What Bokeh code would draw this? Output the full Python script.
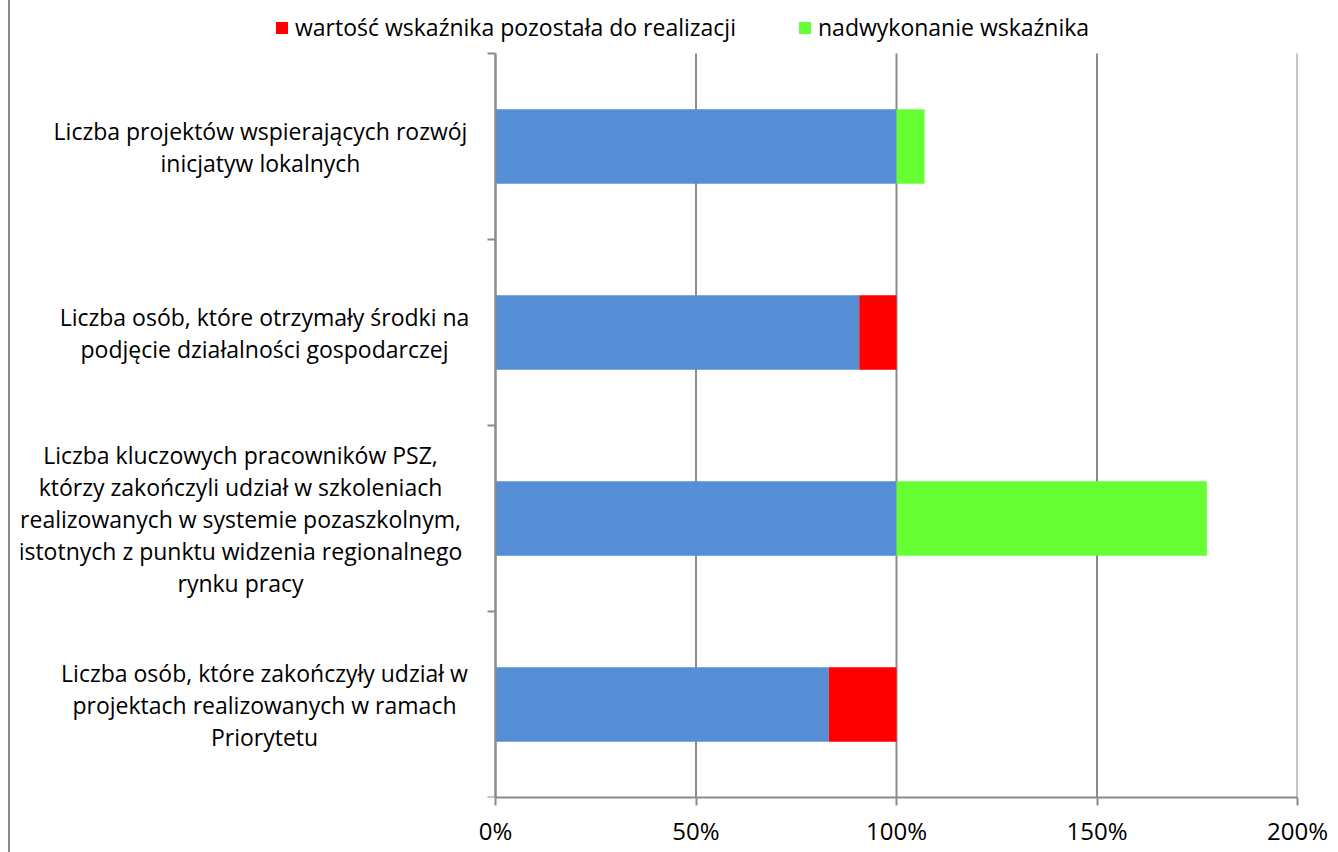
from bokeh.plotting import figure
from bokeh.models import (Range1d, FixedTicker, LabelSet, ColumnDataSource, Legend, LegendItem)
from bokeh.core.properties import value
from bokeh.embed import file_html
from bokeh.resources import INLINE

# ---- data (top to bottom) ----
categories = [
    "Liczba projektów wspierających rozwój\ninicjatyw lokalnych",
    "Liczba osób, które otrzymały środki na\npodjęcie działalności gospodarczej",
    "Liczba kluczowych pracowników PSZ,\nktórzy zakończyli udział w szkoleniach\nrealizowanych w systemie pozaszkolnym,\nistotnych z punktu widzenia regionalnego\nrynku pracy",
    "Liczba osób, które zakończyły udział w\nprojektach realizowanych w ramach\nPriorytetu",
]
realized = [100.0, 90.7, 100.0, 83.1]     # blue
remaining = [0.0, 9.3, 0.0, 16.9]         # red
overdone = [7.0, 0.0, 77.4, 0.0]          # green
legend_labels = ["wartość wskaźnika pozostała do realizacji", "nadwykonanie wskaźnika"]
x_ticks = [0, 50, 100, 150, 200]
x_tick_labels = ["0%", "50%", "100%", "150%", "200%"]

FONT = "Open Sans"
FS = "23px"
GRID = "#8c8c8c"

W, H = 1338, 852
LEFT, RIGHT, BOTTOM = 20, 41, 55     # canvas borders around the frame
X0_PX, X200_PX = 495, 1297            # where 0% and 200% fall
TOP_PX = 53                           # top of the value area
label_center_px = [260, 264, 240, 264]  # horizontal centre of each category label block

n = len(categories)
ypos = [n - i - 0.5 for i in range(n)]

kx = (X200_PX - X0_PX) / 200.0
x_start = -(X0_PX - LEFT) / kx
ky = (H - BOTTOM - TOP_PX) / n
y_end = n + TOP_PX / ky

p = figure(width=W, height=H, output_backend="svg", toolbar_location=None,
           x_range=Range1d(x_start, 200), y_range=Range1d(0, y_end),
           min_border_left=LEFT, min_border_right=RIGHT, min_border_top=0, min_border_bottom=BOTTOM)
p.outline_line_color = None
p.background_fill_color = "white"
p.border_fill_color = None
p.styles = {"background-color": "white",
            "box-shadow": "inset 8px 0 0 0 white, inset 10px 0 0 0 #8c8c8c"}
p.grid.visible = False

# vertical grid lines (only over the value area)
p.segment(x0=x_ticks, x1=x_ticks, y0=[0] * len(x_ticks), y1=[n] * len(x_ticks),
          line_color=GRID, line_width=2)

# bars
blue_right = realized
red_left = realized
red_right = [a + b for a, b in zip(realized, remaining)]
green_left = red_right
green_right = [a + b + c for a, b, c in zip(realized, remaining, overdone)]

p.hbar(y=ypos, left=[0] * n, right=blue_right, height=0.4, fill_color="#558ED5", line_color=None)
r_red = p.hbar(y=ypos, left=red_left, right=red_right, height=0.4, fill_color="#FF0000", line_color=None)
r_green = p.hbar(y=ypos, left=green_left, right=green_right, height=0.4, fill_color="#66FF33", line_color=None)

# x axis
xa = p.xaxis[0]
xa.ticker = FixedTicker(ticks=x_ticks)
xa.bounds = (0, 200)
xa.major_label_overrides = {t: l for t, l in zip(x_ticks, x_tick_labels)}
xa.major_label_text_font = FONT
xa.major_label_text_font_size = "24px"
xa.major_label_text_color = "black"
xa.major_label_standoff = 8
xa.axis_line_color = GRID
xa.axis_line_width = 2
xa.major_tick_line_color = GRID
xa.major_tick_line_width = 2
xa.major_tick_in = 0
xa.major_tick_out = 8
xa.minor_tick_line_color = None

# y axis at 0 % (ticks at category boundaries, no labels)
ya = p.yaxis[0]
ya.fixed_location = 0
ya.bounds = (0, n)
ya.ticker = FixedTicker(ticks=list(range(n + 1)))
ya.major_label_overrides = {i: "" for i in range(n + 1)}
ya.axis_line_color = GRID
ya.axis_line_width = 2
ya.major_tick_line_color = GRID
ya.major_tick_line_width = 2
ya.major_tick_in = 0
ya.major_tick_out = 8
ya.minor_tick_line_color = None

# category labels: one row per text line, centred on the category
line_step = 32 / ky
lx, ly, lt = [], [], []
for cat, yc, cpx in zip(categories, ypos, label_center_px):
    lines = cat.split("\n")
    k = len(lines)
    for j, line in enumerate(lines):
        lx.append((cpx - X0_PX) / kx)
        ly.append(yc + ((k - 1) / 2 - j) * line_step)
        lt.append(line)
labels = LabelSet(x="x", y="y", text="text", source=ColumnDataSource(dict(x=lx, y=ly, text=lt)),
                  text_align="center", text_baseline="middle",
                  text_font=value(FONT), text_font_size=value(FS), text_color="black")
p.add_layout(labels)

# legends (two separate boxes, placed in frame pixels)
frame_h = H - BOTTOM
for lab, rend, lx0 in [(legend_labels[0], r_red, 274), (legend_labels[1], r_green, 797)]:
    lg = Legend(items=[LegendItem(label=lab, renderers=[rend])],
                location=(lx0 - LEFT, frame_h - 43),
                glyph_width=15, glyph_height=15, label_standoff=6,
                padding=0, margin=0, border_line_color=None, background_fill_alpha=0,
                label_text_font=FONT, label_text_font_size=FS, label_height=15,
                label_text_color="black", label_text_baseline="middle")
    p.add_layout(lg)

open("out.html", "w").write(file_html(p, INLINE))
